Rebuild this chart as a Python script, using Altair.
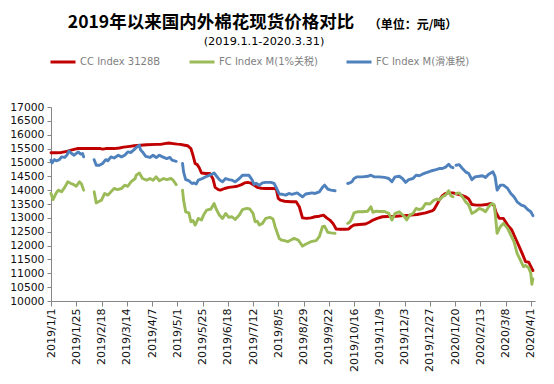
import altair as alt
import pandas as pd

# ---- data (day offset from 2019-01-01, value in 元/吨) ----
cc_days = [0, 5, 10, 15, 20, 25, 35, 47, 49, 52, 60, 65, 69, 75, 79, 85, 91, 100, 104, 108,
           112, 116, 120, 123, 127, 130, 133, 135, 137, 139, 141, 143, 147, 151, 154, 156, 159, 161, 165, 169,
           173, 177, 181, 184, 187, 190, 193, 196, 200, 204, 210, 214, 216, 218, 222, 228, 233, 236, 239, 243,
           247, 251, 255, 259, 262, 265, 268, 271, 275, 280, 283, 286, 288, 293, 299, 303, 306, 310, 315, 320,
           328, 335, 342, 348, 356, 362, 364, 367, 369, 372, 375, 378, 382, 386, 390, 394, 397, 400, 404, 409,
           414, 418, 421, 423, 426, 430, 434, 438, 441, 445, 448, 451, 454, 456, 458]
cc_vals = [15350, 15350, 15360, 15400, 15450, 15500, 15500, 15500, 15480, 15500, 15500, 15520, 15550, 15580, 15600, 15620, 15640, 15650, 15650, 15680,
           15700, 15680, 15660, 15650, 15620, 15600, 15500, 15250, 14960, 14920, 14800, 14620, 14600, 14600, 14400, 14100, 14020, 14000, 14060, 14100,
           14120, 14140, 14200, 14260, 14280, 14250, 14180, 14100, 14070, 14060, 14060, 14050, 13700, 13640, 13600, 13580, 13580, 13400, 13000, 12980,
           13000, 13040, 13060, 13100, 13000, 12920, 12800, 12600, 12590, 12590, 12600, 12700, 12740, 12760, 12780, 12850, 12920, 12980, 13040, 13050,
           13060, 13080, 13100, 13120, 13180, 13250, 13300, 13500, 13640, 13800, 13880, 13900, 13900, 13860, 13820, 13760, 13680, 13480, 13460, 13460,
           13480, 13520, 13450, 13200, 12980, 12980, 12740, 12560, 12300, 11960, 11700, 11420, 11400, 11250, 11100]

fc1_days = [0, 2, 5, 7, 10, 13, 16, 19, 21, 24, 27, 29, 31, 35,
            41, 43, 46, 48, 51, 54, 57, 60, 63, 67, 70, 73, 76, 80, 81, 84, 87, 91, 94, 97, 100, 103, 107, 110, 114, 116, 119, 122,
            125, 126, 128, 131, 133, 135, 137, 140, 143, 145, 148, 152, 155, 157, 160, 163, 166, 169, 172, 175, 179, 182, 186, 189,
            192, 194, 196, 198, 201, 204, 208, 211, 213, 217, 219, 222, 225, 228, 231, 235, 239, 242, 247, 252, 255, 258, 260, 263,
            266, 270, 276,
            282, 284, 286, 288, 291, 296, 301, 304, 306, 309, 312, 317, 321, 324, 327, 331, 336, 338, 341, 344, 347, 350, 353, 356,
            360, 364, 367, 369, 372, 375, 378, 380, 382, 383,
            385, 388, 391, 394, 397, 400, 403, 407, 410, 413, 416, 419, 421, 422, 424, 427, 430, 434, 437, 440, 443, 446, 449, 451,
            454, 456, 457, 458]
fc1_vals = [13880, 13660, 13900, 14000, 13940, 14100, 14300, 14240, 14210, 14140, 14300, 14220, 14000, None,
            13940, 13540, 13600, 13640, 13880, 13820, 13940, 14060, 14020, 14060, 14180, 14140, 14300, 14420, 14540, 14620, 14420, 14360, 14420, 14360, 14480, 14340, 14420, 14380, 14420, 14360, 14200, None,
            14000, 13640, 13220, 13180, 12860, 12900, 12740, 12980, 12920, 13100, 13280, 13320, 13520, 13320, 13100, 12980, 13160, 13020, 13040, 12940, 13100, 13300, 13340, 13320,
            13160, 12860, 12880, 12740, 12800, 12980, 13020, 12960, 12680, 12250, 12200, 12180, 12140, 12200, 12260, 12200, 11980, 12050, 12140, 12180, 12320, 12680, 12700, 12480,
            12460, 12440, None,
            12800, 12850, 12980, 13180, 13220, 13220, 13240, 13400, 13200, 13240, 13230, 13230, 13160, 12920, 13160, 13220, 13040, 12920, 13100, 13160, 13340, 13300, 13340, 13520,
            13500, 13640, 13680, 13640, 13760, 13820, 13980, 13800, 13760, None,
            13880, 13900, 13760, 13580, 13460, 13160, 13220, 13340, 13300, 13220, 13400, 13520, 13480, 13220, 12440, 12680, 12800, 12620, 12380, 12140, 11720, 11480, 11240, 11280,
            11200, 11000, 10600, 10800]

fc2_days = [0, 1, 3, 5, 8, 10, 13, 15, 17, 19, 22, 26, 28, 30, 31, 35,
            41, 43, 46, 49, 52, 54, 57, 60, 64, 67, 70, 73, 76, 79, 81, 84, 85, 87, 90, 94, 97, 100, 103, 106, 110, 113, 115, 119, 122,
            125, 126, 128, 131, 134, 136, 138, 140, 144, 148, 151, 155, 157, 160, 163, 166, 169, 172, 175, 179, 182, 188, 191, 193,
            195, 198, 201, 204, 209, 212, 214, 217, 220, 223, 226, 229, 234, 239, 242, 245, 248, 251, 255, 258, 260, 263, 266, 270, 276,
            282, 284, 286, 288, 291, 296, 301, 304, 307, 312, 317, 321, 324, 327, 331, 334, 337, 340, 344, 347, 350, 353, 356, 359,
            362, 366, 369, 372, 375, 378, 380, 382, 383,
            385, 388, 391, 394, 397, 400, 403, 407, 410, 413, 416, 420, 422, 424, 427, 430, 434, 437, 440, 443, 447, 450, 453, 456, 458]
fc2_vals = [15080, 14980, 15100, 15060, 15100, 15200, 15180, 15260, 15410, 15340, 15260, 15380, 15300, 15320, 15200, None,
            15100, 14900, 14900, 14960, 15100, 15060, 15200, 15160, 15260, 15200, 15260, 15380, 15360, 15460, 15540, 15620, 15460, 15380, 15220, 15180, 15260, 15180, 15260, 15200, 15140, 15180, 15080, 15040, None,
            14960, 14660, 14380, 14340, 14240, 14260, 14220, 14360, 14420, 14500, 14540, 14620, 14520, 14380, 14300, 14420, 14380, 14360, 14300, 14420, 14540, 14540, 14380, 14210,
            14250, 14180, 14260, 14280, 14280, 14240, 14100, 13860, 13850, 13820, 13880, 13850, 13900, 13760, 13860, 13880, 13900, 13880, 13940, 14100, 14180, 14040, 14000, 13980, None,
            14240, 14260, 14300, 14420, 14480, 14480, 14500, 14540, 14480, 14480, 14460, 14420, 14300, 14480, 14500, 14420, 14280, 14380, 14420, 14540, 14520, 14575, 14620, 14660,
            14700, 14740, 14780, 14780, 14830, 14935, 14840, 14810, None,
            14900, 14920, 14780, 14660, 14600, 14380, 14480, 14500, 14520, 14460, 14575, 14660, 14500, 14000, 14180, 14180, 14060, 13880, 13760, 13580, 13460, 13420, 13300, 13220, 13080]

series_names = ["CC Index 3128B", "FC Index M(1%关税)", "FC Index M(滑准税)"]
series_colors = ["#C00000", "#9BBB59", "#4F81BD"]

tick_labels = ["2019/1/1", "2019/1/25", "2019/2/18", "2019/3/14", "2019/4/7", "2019/5/1", "2019/5/25",
               "2019/6/18", "2019/7/12", "2019/8/5", "2019/8/29", "2019/9/22", "2019/10/16", "2019/11/9",
               "2019/12/3", "2019/12/27", "2020/1/20", "2020/2/13", "2020/3/8", "2020/4/1"]
y_ticks = list(range(10000, 17001, 500))

title_main = "2019年以来国内外棉花现货价格对比"
title_unit = "（单位：元/吨）"
title_sub = "(2019.1.1-2020.3.31)"

# ---- build table ----
base = pd.Timestamp("2019-01-01")
rows = []
for name, days, vals in zip(series_names, [cc_days, fc1_days, fc2_days], [cc_vals, fc1_vals, fc2_vals]):
    for d, v in zip(days, vals):
        rows.append({"date": (base + pd.Timedelta(days=d)).strftime("%Y-%m-%d"), "series": name, "value": v})
df = pd.DataFrame(rows)


def dt(s):
    y, m, d = (int(p) for p in s.split("/"))
    return alt.DateTime(year=y, month=m, date=d, utc=True)


x_values = [dt(s) for s in tick_labels]
AX = "#868686"
FONT = "DejaVu Sans, Noto Sans CJK SC"

lines = alt.Chart(df).mark_line(strokeWidth=2.9, strokeJoin="round", strokeCap="round").encode(
    x=alt.X("date:T",
            scale=alt.Scale(type="utc", domain=[dt("2019/1/1"), dt("2020/4/5")]),
            axis=alt.Axis(values=x_values, format="%Y/%-m/%-d", labelAngle=270, title=None,
                          grid=False, domainColor=AX, tickColor=AX, tickSize=5, labelPadding=2,
                          labelFont=FONT, labelFontSize=11, labelColor="#111", labelOverlap=False)),
    y=alt.Y("value:Q",
            scale=alt.Scale(domain=[10000, 17000], nice=False, zero=False),
            axis=alt.Axis(values=y_ticks, format="d", title=None, grid=False,
                          domainColor=AX, tickColor=AX, tickSize=4, labelPadding=3,
                          labelFont=FONT, labelFontSize=10.8, labelColor="#111")),
    color=alt.Color("series:N",
                    scale=alt.Scale(domain=series_names, range=series_colors),
                    legend=alt.Legend(orient="none", legendX=-2, legendY=-59, direction="horizontal",
                                      title=None, symbolType="stroke", symbolSize=625,
                                      symbolStrokeWidth=3, labelFont=FONT, labelFontSize=10,
                                      labelColor="#7f7f7f", columnPadding=22, labelOffset=3,
                                      padding=0)),
)

t_main = alt.Chart(pd.DataFrame({"t": [title_main]})).mark_text(
    font="Noto Sans CJK SC", fontSize=17.5, fontWeight="bold", color="#000", baseline="middle", align="center"
).encode(text="t:N", x=alt.value(160), y=alt.value(-84))

t_unit = alt.Chart(pd.DataFrame({"t": [title_unit]})).mark_text(
    font="Noto Sans CJK SC", fontSize=12, fontWeight="bold", color="#000", baseline="middle", align="center"
).encode(text="t:N", x=alt.value(362), y=alt.value(-82))

t_sub = alt.Chart(pd.DataFrame({"t": [title_sub]})).mark_text(
    font=FONT, fontSize=11.3, color="#000", baseline="middle", align="center"
).encode(text="t:N", x=alt.value(213), y=alt.value(-65))

chart = alt.layer(lines, t_main, t_unit, t_sub).properties(
    width=484, height=194,
    autosize=alt.AutoSizeParams(type="none"),
    padding={"left": 43, "top": 99, "right": 11, "bottom": 75},
).configure_view(stroke=None)

chart.save("out.html", embed_options={"renderer": "svg", "actions": False})
